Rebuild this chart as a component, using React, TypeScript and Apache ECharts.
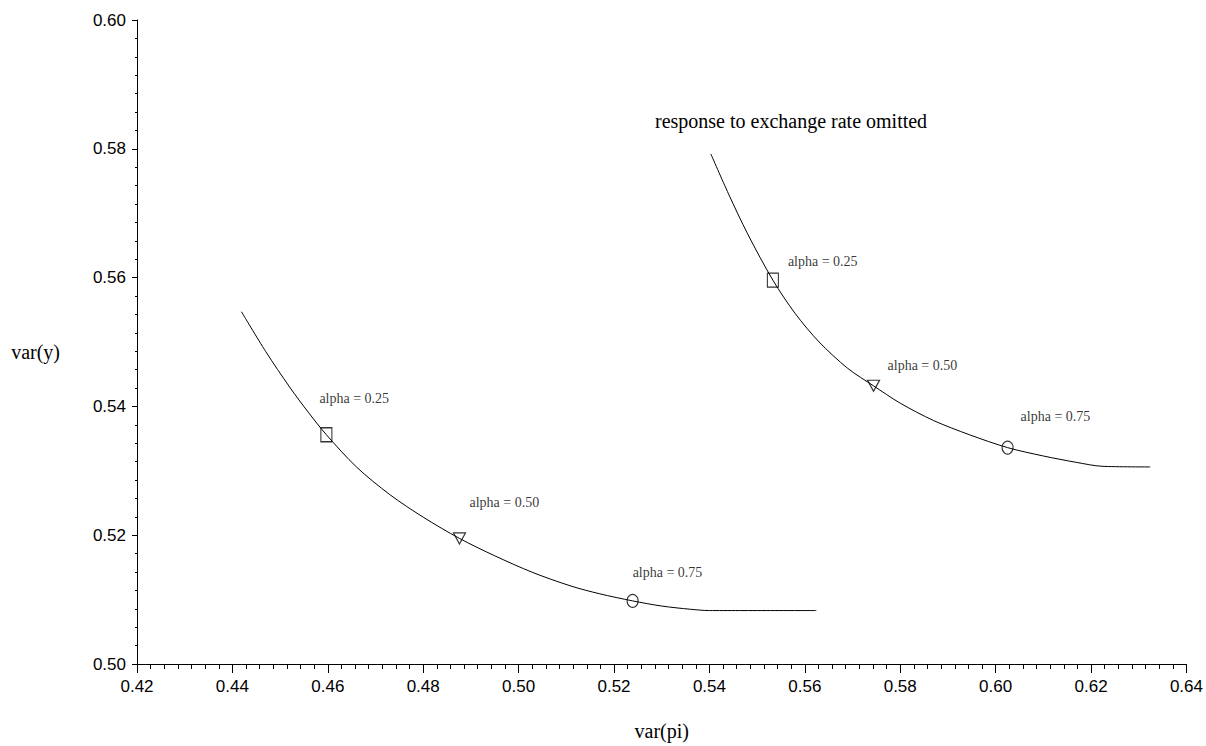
import React, { useEffect, useRef } from "react";
import * as echarts from "echarts";

// Curve without response to exchange rate (left curve): [var(pi), var(y)]
const curveBase: number[][] = [
  [0.4419, 0.5547], [0.4470, 0.5485], [0.4520, 0.5430], [0.4560, 0.5390],
  [0.4597, 0.5356], [0.4660, 0.5306], [0.4730, 0.5263], [0.4800, 0.5228],
  [0.4876, 0.5195], [0.4950, 0.5168], [0.5030, 0.5142], [0.5110, 0.5121],
  [0.5170, 0.5109], [0.5239, 0.5098], [0.5300, 0.5090], [0.5360, 0.5085],
  [0.5400, 0.5083], [0.5624, 0.5083],
];

// Curve with response to exchange rate omitted (right curve)
const curveOmitted: number[][] = [
  [0.5403, 0.5792], [0.5440, 0.5730], [0.5480, 0.5668], [0.5533, 0.5596],
  [0.5580, 0.5544], [0.5630, 0.5500], [0.5690, 0.5459], [0.5744, 0.5432],
  [0.5800, 0.5405], [0.5870, 0.5378], [0.5945, 0.5356], [0.6025, 0.5336],
  [0.6100, 0.5323], [0.6170, 0.5313], [0.6223, 0.5307], [0.6324, 0.5306],
];

const alphaLabels = ["alpha = 0.25", "alpha = 0.50", "alpha = 0.75"];
const markersBase: number[][] = [[0.4597, 0.5356], [0.4876, 0.5195], [0.5239, 0.5098]];
const markersOmitted: number[][] = [[0.5533, 0.5596], [0.5744, 0.5432], [0.6025, 0.5336]];

const xTicks = { min: 0.42, max: 0.64, interval: 0.02 };
const yTicks = { min: 0.5, max: 0.6, interval: 0.02 };

const annotation = "response to exchange rate omitted";

// styles
const symbols = ["rect", "triangle", "circle"];
const symbolSizes: [number, number][] = [[11, 14], [12, 11], [11, 13]];
const symbolRotations = [0, 180, 0];
const offsetsBase: [number, number][] = [[-7, -36], [10, -36], [0, -28]];
const offsetsOmitted: [number, number][] = [[15, -19], [14, -20], [13, -31]];

const serif = "'Liberation Serif', 'DejaVu Serif', serif";
const sans = "'Liberation Sans', Arial, sans-serif";

function markerData(pts: number[][], offsets: [number, number][]) {
  return pts.map((p, i) => ({
    value: p,
    name: alphaLabels[i],
    symbol: symbols[i],
    symbolSize: symbolSizes[i],
    symbolRotate: symbolRotations[i],
    label: { offset: offsets[i] },
  }));
}

export default function App() {
  const ref = useRef<HTMLDivElement>(null);
  useEffect(() => {
    if (!ref.current) return;
    const chart = echarts.init(ref.current, undefined, { renderer: "svg" });
    const markerSeries = (pts: number[][], offsets: [number, number][]) => ({
      type: "scatter",
      data: markerData(pts, offsets),
      itemStyle: { color: "rgba(0,0,0,0)", borderColor: "#000", borderWidth: 1.2 },
      label: {
        show: true,
        position: "inside",
        align: "left",
        verticalAlign: "middle",
        formatter: (p: any) => p.name,
        color: "#000",
        fontFamily: serif,
        fontSize: 14,
      },
      z: 3,
    });
    const lineSeries = (data: number[][]) => ({
      type: "line",
      data,
      showSymbol: false,
      smooth: 0.3,
      lineStyle: { color: "#000", width: 1 },
      z: 2,
    });
    chart.setOption({
      animation: false,
      backgroundColor: "#fff",
      grid: { left: 137, right: 19, top: 20, bottom: 79 },
      xAxis: {
        type: "value",
        min: xTicks.min,
        max: xTicks.max,
        interval: xTicks.interval,
        name: "var(pi)",
        nameLocation: "middle",
        nameGap: 57,
        nameTextStyle: { fontFamily: serif, fontSize: 20, color: "#000" },
        axisLine: { show: true, onZero: false, lineStyle: { color: "#000", width: 1 } },
        axisTick: { show: true, length: 9, lineStyle: { color: "#000" } },
        minorTick: { show: true, splitNumber: 7, length: 5, lineStyle: { color: "#000" } },
        axisLabel: {
          color: "#000",
          fontFamily: sans,
          fontSize: 17,
          margin: 14,
          formatter: (v: number) => v.toFixed(2),
        },
        splitLine: { show: false },
      },
      yAxis: {
        type: "value",
        min: yTicks.min,
        max: yTicks.max,
        interval: yTicks.interval,
        name: "var(y)",
        nameLocation: "middle",
        nameRotate: 0,
        nameGap: 77,
        nameTextStyle: {
          fontFamily: serif,
          fontSize: 20,
          color: "#000",
          verticalAlign: "top",
          padding: [0, 0, 0, 0],
        },
        axisLine: { show: true, onZero: false, lineStyle: { color: "#000", width: 1 } },
        axisTick: { show: true, length: 5, lineStyle: { color: "#000" } },
        minorTick: { show: true, splitNumber: 7, length: 2, lineStyle: { color: "#000" } },
        axisLabel: {
          color: "#000",
          fontFamily: sans,
          fontSize: 17,
          margin: 11,
          formatter: (v: number) => v.toFixed(2),
        },
        splitLine: { show: false },
      },
      graphic: [
        {
          type: "text",
          left: 655,
          top: 111,
          style: { text: annotation, font: `20px ${serif}`, fill: "#000" },
        },
      ],
      series: [
        lineSeries(curveBase),
        lineSeries(curveOmitted),
        markerSeries(markersBase, offsetsBase),
        markerSeries(markersOmitted, offsetsOmitted),
      ],
    });
    return () => chart.dispose();
  }, []);
  return (
    <div
      ref={ref}
      style={{ position: "absolute", left: 0, top: 0, width: 1206, height: 746 }}
    />
  );
}
